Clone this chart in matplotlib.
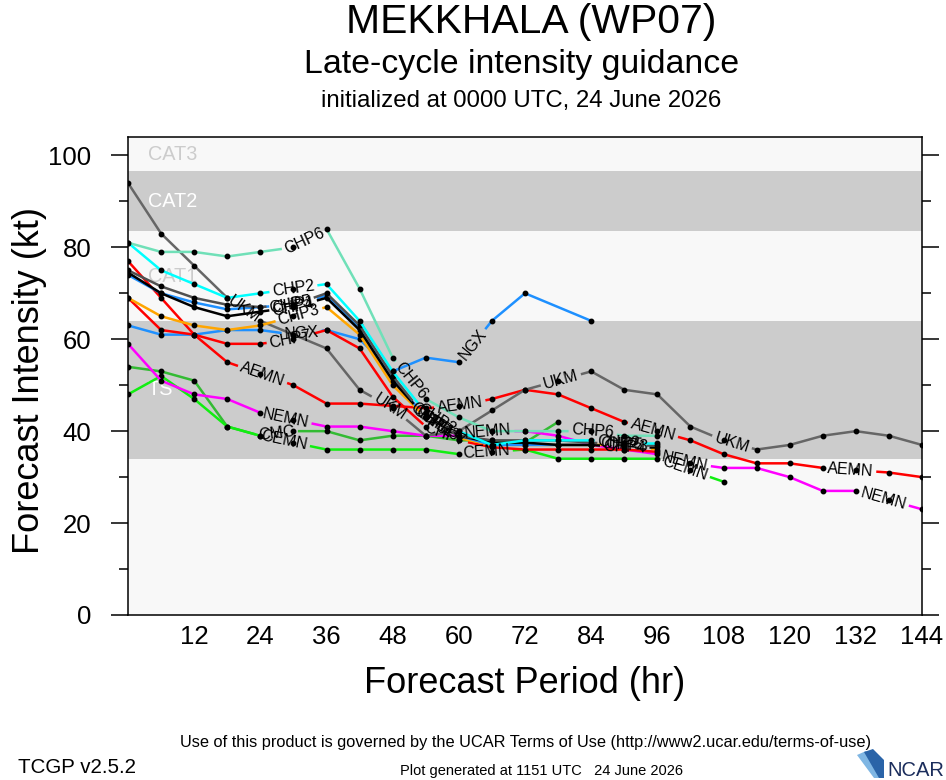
import numpy as np
import matplotlib
matplotlib.use('Agg')
import matplotlib.pyplot as plt
from matplotlib.patches import Polygon

plt.rcParams['font.family'] = ['Liberation Sans', 'DejaVu Sans']

# Forecast hours (every 6 h) and intensities (kt)
hours = list(range(0, 150, 6))

ukm = [94, 83, 76, 69, 64, 61, 58, 49, 45, 39, 40, 44.5, 49, 51, 53, 49, 48, 41, 38, 36, 37, 39, 40, 39, 37]
aemn = [77, 69, 61, 55, 52.5, 50, 46, 46, 45.5, 45, 45.5, 47, 49, 48, 45, 42, 40, 38, 35, 33, 33, 32, 31.5, 31, 30]
nemn = [59, 51, 48, 47, 44, 42.5, 41, 41, 40, 39, 39, 40, 40, 39, 37, 36, 35, 33, 32, 32, 30, 27, 27, 25, 23]
cemn = [48, 52, 47, 41, 39, 37.5, 36, 36, 36, 36, 35, 35.5, 36, 34, 34, 34, 34, 31.5, 29]
cmc = [54, 53, 51, 41, 39, 40, 40, 38, 39, 39, 38, 38, 37.5, 42]
chp6 = [81, 79, 79, 78, 79, 80, 84, 71, 56, 47, 43, 40, 40, 40, 40, 39, 39]
chp2 = [81, 75, 72, 69, 70, 71, 72, 64, 53, 44, 40, 37, 38, 38, 38, 37.5, 37.5]
chp5 = [75, 71.5, 69, 67.5, 67, 67.5, 70, 63, 52, 43, 39, 38, 38, 38, 37.5, 37, 37]
chp4 = [74.5, 70, 67, 65, 66, 67, 69, 62, 51, 43, 39, 37.5, 37.5, 37, 37, 36.5, 36.5]
chp1 = [74, 70, 68, 66.5, 67, 67.5, 69.5, 62.5, 51.5, 43, 39, 37, 37, 37, 37]
chp3 = [69, 65, 63, 62, 63, 65, 67, 61, 50, 43, 38.5, 37, 37, 37, 37, 37, 36]
chp7 = [69, 62, 61, 59, 59, 60, 62, 58, 47.5, 41, 38, 36.5, 36, 36, 36, 36, 35.5]
ngx_hours = [0, 6, 12, 18, 24, 30, 36, 42, 48, 54, 60, 66, 72, 84]
ngx = [63, 61, 61, 62, 62, 61, 62, 60, 53, 56, 55, 64, 70, 64]

# intensity bands (kt) and their labels
bands = [('TS', 34, 64, '#cccccc', 'white'),
         ('CAT1', 64, 83.5, None, '#cccccc'),
         ('CAT2', 83.5, 96.5, '#cccccc', 'white'),
         ('CAT3', 96.5, 104, None, '#cccccc')]

# name, hours, values, colour, where the line labels sit (hr)
models = [
    ('CMC', hours[:len(cmc)], cmc, '#33bb33', [27]),
    ('CEMN', hours[:len(cemn)], cemn, '#11ee11', [28.3, 65, 101]),
    ('NEMN', hours, nemn, '#ff00ff', [28.6, 65.3, 101, 137]),
    ('AEMN', hours, aemn, '#ff0000', [24.4, 60.2, 95.2, 131]),
    ('UKM', hours, ukm, '#666666', [21, 47.5, 78.5, 109.5]),
    ('NGX', ngx_hours, ngx, '#1e90ff', [31.5, 62.5]),
    ('CHP7', hours[:len(chp7)], chp7, '#ff0000', [29.5, 57.5]),
    ('CHP3', hours[:len(chp3)], chp3, '#ffa500', [31, 56.5, 90.5]),
    ('CHP1', hours[:len(chp1)], chp1, '#1e90ff', [30, 55.5]),
    ('CHP4', hours[:len(chp4)], chp4, 'black', [30, 55, 90]),
    ('CHP5', hours[:len(chp5)], chp5, '#505050', [29.5, 54.5, 89.5]),
    ('CHP2', hours[:len(chp2)], chp2, '#00ffff', [30, 56, 89]),
    ('CHP6', hours[:len(chp6)], chp6, '#70e0b8', [32, 51.3, 84.3]),
]

W, H = 946, 780
fig = plt.figure(figsize=(W / 100, H / 100), dpi=100)
ax = fig.add_axes([128 / W, 1 - 615 / H, (922 - 128) / W, (615 - 137) / H])
ax.set_xlim(0, 144)
ax.set_ylim(0, 104)
ax.set_facecolor('#f8f8f8')

for name, lo, hi, fc, tc in bands:
    if fc:
        ax.axhspan(lo, hi, color=fc, lw=0, zorder=0)
    ax.text(3.6, (lo + hi) / 2, name, color=tc, fontsize=14.3, va='center', ha='left', zorder=1)

ax.set_xticks(range(12, 145, 12))
ax.set_yticks(range(0, 101, 20))
ax.set_yticks(range(10, 100, 20), minor=True)
ax.tick_params(axis='x', length=0, pad=7, labelsize=18.5)
ax.tick_params(axis='y', which='major', direction='out', length=12.2, width=1.1,
               pad=14, labelsize=18.5, right=True)
ax.tick_params(axis='y', which='minor', direction='out', length=6.5, width=1.1, right=True)
for sp in ax.spines.values():
    sp.set_linewidth(1.1)

fig.canvas.draw()
renderer = fig.canvas.get_renderer()
to_px = ax.transData
from_px = ax.transData.inverted()
LBL_FS = 11.5


def draw_model(name, t, v, color, label_at, z):
    pts = to_px.transform(np.column_stack([t, v]))
    s = np.concatenate([[0], np.cumsum(np.hypot(*np.diff(pts, axis=0).T))])
    probe = ax.text(0, 0, name, fontsize=LBL_FS)
    w = probe.get_window_extent(renderer).width
    probe.remove()

    def at(ss):
        ss = np.atleast_1d(ss)
        return np.column_stack([np.interp(ss, s, pts[:, 0]), np.interp(ss, s, pts[:, 1])])

    gaps = []
    for th in label_at:
        sc = np.interp(th, t, s)
        gaps.append((sc - w / 2 - 3, sc + w / 2 + 3))
        a, b = at([sc - w / 2, sc + w / 2])
        ang = np.degrees(np.arctan2(b[1] - a[1], b[0] - a[0]))
        cx, cy = from_px.transform(at(sc))[0]
        ax.text(cx, cy, name, fontsize=LBL_FS, rotation=ang, rotation_mode='anchor',
                ha='center', va='center', zorder=20)

    # visible pieces of the line between the label gaps
    start = 0.0
    pieces = []
    for g0, g1 in sorted(gaps):
        pieces.append((start, max(start, g0)))
        start = max(start, g1)
    pieces.append((start, s[-1]))
    for a0, a1 in pieces:
        if a1 <= a0:
            continue
        ss = np.concatenate([[a0], s[(s > a0) & (s < a1)], [a1]])
        d = from_px.transform(at(ss))
        ax.plot(d[:, 0], d[:, 1], color=color, lw=1.8, solid_capstyle='butt', zorder=z)
    ax.plot(t, v, ls='none', marker='o', ms=3.2, color='black', zorder=z + 0.5)


for i, (name, t, v, color, label_at) in enumerate(models):
    draw_model(name, t, v, color, label_at, 5 + i)

# titles and axis labels
fig.text(531 / W, 1 - 33 / H, 'MEKKHALA (WP07)', fontsize=29.4, ha='center', va='baseline')
fig.text(522 / W, 1 - 73 / H, 'Late-cycle intensity guidance', fontsize=24.4, ha='center', va='baseline')
fig.text(521 / W, 1 - 107 / H, 'initialized at 0000 UTC, 24 June 2026', fontsize=17.3,
         ha='center', va='baseline')
fig.text(525 / W, 1 - 693 / H, 'Forecast Period (hr)', fontsize=26, ha='center', va='baseline')
fig.text(30 / W, 1 - 381 / H, 'Forecast Intensity (kt)', fontsize=26, rotation=90,
         ha='center', va='center')

# footer
fig.text(526 / W, 1 - 747 / H, 'Use of this product is governed by the UCAR Terms of Use '
         '(http://www2.ucar.edu/terms-of-use)', fontsize=11.8, ha='center', va='baseline')
fig.text(18 / W, 1 - 773 / H, 'TCGP v2.5.2', fontsize=14.8, ha='left', va='baseline')
fig.text(541 / W, 1 - 775 / H, 'Plot generated at 1151 UTC   24 June 2026', fontsize=10.5,
         ha='center', va='baseline')
fig.text(944 / W, 1 - 776 / H, 'NCAR', fontsize=14.5, color='#1b2d5c', ha='right', va='baseline')

# NCAR swoosh
sw_light = [(857, 755), (866, 751), (878, 763), (881, 778), (874, 778)]
sw_dark = [(864, 752), (873, 749), (884, 760), (884, 778), (879, 778)]
for pts_, c in ((sw_light, '#7fb6e3'), (sw_dark, '#2a64a8')):
    fig.patches.append(Polygon([(x / W, 1 - y / H) for x, y in pts_], closed=True,
                               transform=fig.transFigure, color=c, lw=0))

fig.savefig('out.png', dpi=100)
